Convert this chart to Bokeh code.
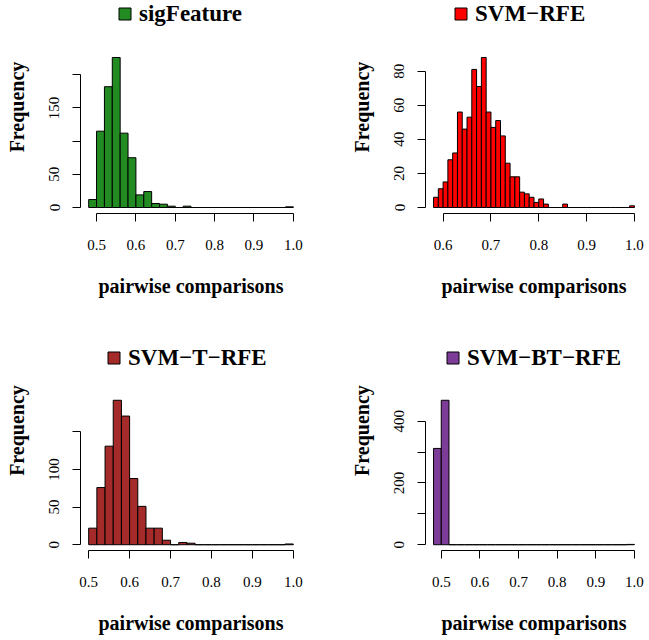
import numpy as np
from bokeh.plotting import figure
from bokeh.models import Range1d, FixedTicker, CustomJSTickFormatter, Legend, LegendItem
from bokeh.layouts import column, row
from bokeh.embed import file_html
from bokeh.resources import INLINE

# ---------------- data ----------------
names = ["sigFeature", "SVM\u2212RFE", "SVM\u2212T\u2212RFE", "SVM\u2212BT\u2212RFE"]
colors = ["#228B22", "#FF0000", "#A52A2A", "#7D3C98"]

# bin starts / widths
bin_start = [0.48, 0.58, 0.50, 0.48]
bin_width = [0.02, 0.01, 0.02, 0.02]

sig_counts = [12, 115, 182, 226, 112, 75, 19, 24, 6, 5, 2, 0, 2,
              0, 0, 0, 0, 0, 0, 0, 0, 0, 0, 0, 0, 1]
rfe_counts = [6, 11, 15, 28, 32, 56, 46, 53, 81, 71, 88, 56, 47, 51, 42, 26,
              18, 18, 9, 8, 6, 3, 5, 2, 0, 0, 0, 2, 0, 0, 0, 0, 0, 0, 0, 0,
              0, 0, 0, 0, 0, 1]
trfe_counts = [22, 76, 131, 192, 171, 88, 51, 22, 22, 6, 0, 3, 2,
               0, 0, 0, 0, 0, 0, 0, 0, 0, 0, 0, 1]
btrfe_counts = [312, 468, 0, 0, 0, 0, 0, 0, 0, 0, 0, 0, 0,
                0, 0, 0, 0, 0, 0, 0, 0, 0, 0, 0, 0, 1]
all_counts = [sig_counts, rfe_counts, trfe_counts, btrfe_counts]

x_ticks = [[0.5, 0.6, 0.7, 0.8, 0.9, 1.0],
           [0.6, 0.7, 0.8, 0.9, 1.0],
           [0.5, 0.6, 0.7, 0.8, 0.9, 1.0],
           [0.5, 0.6, 0.7, 0.8, 0.9, 1.0]]
y_ticks = [[0, 50, 100, 150, 200],
           [0, 20, 40, 60, 80],
           [0, 50, 100, 150],
           [0, 100, 200, 300, 400]]
y_hidden = [[100, 200], [], [150], [100, 300]]

# ---------------- layout ----------------
FONT = "Liberation Serif"
col_left = [80, 101]
col_frame = [221, 217]
col_right = [23, 5]
row_data_h = [162, 156]     # height of the plotting region proper
row_extra = [51, 84]        # room above it for the legend-title
row_bottom = [97, 88]
legend_x = [37, 28, 26, 20]
title_gap = [37, 36]        # legend centre above the plotting region
legend_half_h = 12.5

figs = []
for i in range(4):
    c = i % 2
    r = i // 2
    counts = np.array(all_counts[i], dtype=float)
    n = len(counts)
    edges = np.round(bin_start[i] + bin_width[i] * np.arange(n + 1), 4)
    lo, hi = edges[0], edges[-1]
    pad = 0.04 * (hi - lo)
    ymax = counts.max()
    ylo = -0.04 * ymax
    yspan = 1.08 * ymax
    dh = row_data_h[r]
    fh = dh + row_extra[r]
    yhi = ylo + yspan * fh / dh

    p = figure(width=col_left[c] + col_frame[c] + col_right[c],
               height=fh + row_bottom[r],
               output_backend="svg", toolbar_location=None,
               x_range=Range1d(lo - pad, hi + pad),
               y_range=Range1d(ylo, yhi),
               min_border_left=col_left[c], min_border_right=col_right[c],
               min_border_top=0, min_border_bottom=row_bottom[r])
    p.grid.visible = False
    p.outline_line_color = None

    rend = p.quad(left=edges[:-1], right=edges[1:], bottom=0, top=counts,
                  fill_color=colors[i], line_color="black", line_width=1)

    xa = p.xaxis[0]
    xa.ticker = FixedTicker(ticks=x_ticks[i], minor_ticks=[])
    xa.bounds = (x_ticks[i][0], x_ticks[i][-1])
    xa.formatter = CustomJSTickFormatter(code="return tick.toFixed(1);")
    xa.axis_label = "pairwise comparisons"

    ya = p.yaxis[0]
    ya.ticker = FixedTicker(ticks=y_ticks[i], minor_ticks=[])
    ya.bounds = (y_ticks[i][0], y_ticks[i][-1])
    ya.formatter = CustomJSTickFormatter(
        args=dict(hide=y_hidden[i]),
        code="return hide.includes(tick) ? '' : String(tick);")
    ya.axis_label = "Frequency"
    ya.major_label_orientation = "vertical"

    for ax in (xa, ya):
        ax.axis_line_color = "black"
        ax.axis_line_width = 1
        ax.major_tick_line_color = "black"
        ax.major_tick_out = 8
        ax.major_tick_in = 0
        ax.minor_tick_out = 0
        ax.minor_tick_in = 0
        ax.major_label_text_font = FONT
        ax.major_label_text_font_size = "15px"
        ax.major_label_text_color = "black"
        ax.axis_label_text_font = FONT
        ax.axis_label_text_font_style = "bold"
        ax.axis_label_text_font_size = "20px"
        ax.axis_label_text_color = "black"
    xa.major_label_standoff = 18
    xa.axis_label_standoff = 22
    ya.major_label_standoff = 13
    ya.axis_label_standoff = 19

    leg = Legend(items=[LegendItem(label=names[i], renderers=[rend])],
                 location=(legend_x[i], dh + title_gap[r] - legend_half_h),
                 border_line_color=None,
                 background_fill_alpha=0, padding=0, margin=0, spacing=0,
                 glyph_width=15, glyph_height=15, label_standoff=7,
                 label_text_font=FONT, label_text_font_style="bold",
                 label_text_font_size="23px", label_text_color="black",
                 label_height=15)
    p.add_layout(leg)
    figs.append(p)

layout = column(row(figs[0], figs[1]), row(figs[2], figs[3]))
open("out.html", "w").write(file_html(layout, INLINE))
